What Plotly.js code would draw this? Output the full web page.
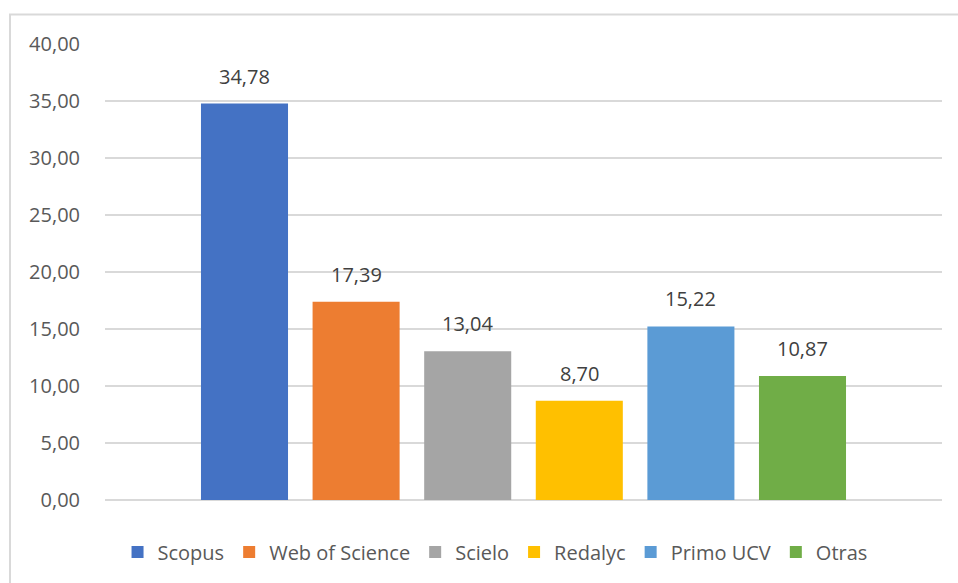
<!DOCTYPE html>
<html>
<head>
<meta charset="utf-8">
<script src="https://cdn.plot.ly/plotly-3.0.1.min.js"></script>
<style>html,body{margin:0;padding:0;background:#fff;}#chart{width:958px;height:583px;}</style>
</head>
<body>
<div id="chart"></div>
<script>
const categories = ["Scopus", "Web of Science", "Scielo", "Redalyc", "Primo UCV", "Otras"];
const values = [34.78, 17.39, 13.04, 8.70, 15.22, 10.87];
const colors = ["#4472C4", "#ED7D31", "#A5A5A5", "#FFC000", "#5B9BD5", "#70AD47"];
const yTicks = [0, 5, 10, 15, 20, 25, 30, 35, 40];

const FONT = "Open Sans, Segoe UI, sans-serif";

const traces = categories.map((c, i) => ({
  type: "bar",
  name: c,
  x: [c],
  y: [values[i]],
  marker: {color: colors[i], line: {width: 0}},
  hoverinfo: "skip"
}));

const annotations = categories.map((c, i) => ({
  x: c, y: values[i], xref: "x", yref: "y",
  text: values[i].toFixed(2).replace(".", ","),
  showarrow: false, yanchor: "bottom", yshift: 12,
  font: {family: FONT, size: 20, color: "#404040"}
}));

const layout = {
  width: 958, height: 583,
  margin: {l: 105, r: 16, t: 43.5, b: 83},
  paper_bgcolor: "#ffffff", plot_bgcolor: "#ffffff",
  separators: ",.",
  barmode: "overlay",
  bargap: 0.22,
  showlegend: true,
  legend: {
    orientation: "h", x: 0.466, xanchor: "center", y: -0.114, yanchor: "middle",
    font: {family: FONT, size: 20, color: "#595959"},
    traceorder: "normal", itemclick: false
  },
  xaxis: {
    type: "category", categoryorder: "array", categoryarray: categories,
    range: [-1.25, 6.25], showticklabels: false, showgrid: false,
    zeroline: false, showline: false, ticks: "", fixedrange: true
  },
  yaxis: {
    range: [0, 40], tickvals: yTicks, tickformat: ".2f",
    showgrid: true, gridcolor: "#d9d9d9", gridwidth: 1.5,
    zeroline: true, zerolinecolor: "#d9d9d9", zerolinewidth: 1.5,
    showline: false, ticks: "", ticklabelstandoff: 24,
    tickfont: {family: FONT, size: 20, color: "#595959"}, fixedrange: true
  },
  annotations: annotations,
  shapes: [{
    type: "rect", xref: "paper", yref: "paper",
    x0: -0.1135, x1: 1.2, y0: -0.3, y1: 1.0645,
    line: {color: "#d9d9d9", width: 2}, fillcolor: "rgba(0,0,0,0)", layer: "below"
  }]
};

Plotly.newPlot("chart", traces, layout, {displayModeBar: false, staticPlot: true});
</script>
</body>
</html>
